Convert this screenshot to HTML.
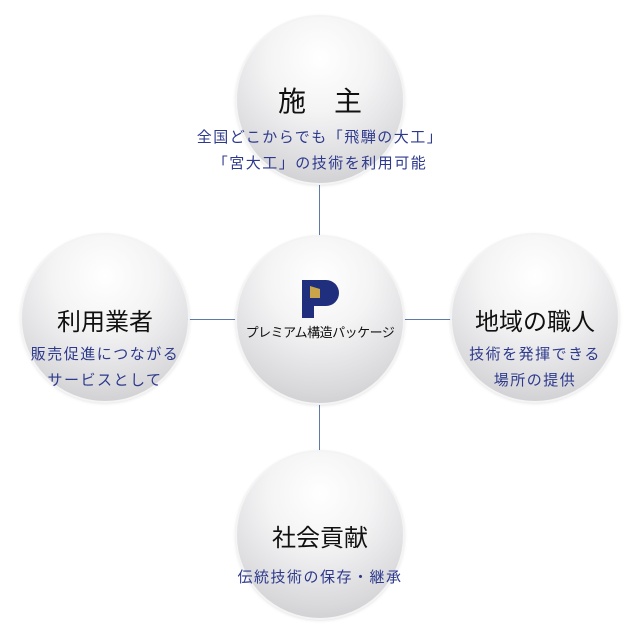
<!DOCTYPE html>
<html><head><meta charset="utf-8"><style>
body{margin:0;width:640px;height:640px;background:#fff;position:relative;overflow:hidden;font-family:"Liberation Sans","Noto Sans CJK JP",sans-serif}
.c{position:absolute;width:166px;height:166px;border-radius:50%;background:radial-gradient(circle at 50% 25%,#ffffff 0%,#f4f4f5 35%,#d9d9dc 75%,#c4c4c8 100%);box-shadow:0 0 0 2px #f4f4f4,0 1px 4px rgba(0,0,0,0.25)}
.l{position:absolute;background:#5f7aa8}
.t{position:absolute;text-align:center;color:#111;font-size:24px;width:200px}
.s{position:absolute;text-align:center;color:#2d3a8c;font-size:15px;line-height:26px;letter-spacing:1.5px;width:300px;white-space:nowrap}
</style></head><body>
<div class="l" style="left:319px;top:180px;width:1px;height:290px"></div>
<div class="l" style="left:185px;top:319px;width:270px;height:1px"></div>
<div class="c" style="left:237px;top:17px"></div>
<div class="c" style="left:237px;top:237px"></div>
<div class="c" style="left:22px;top:235px"></div>
<div class="c" style="left:452px;top:235px"></div>
<div class="c" style="left:237px;top:452px"></div>
<div class="t" style="left:220px;top:80px;font-size:28px">施　主</div>
<div class="s" style="left:170px;top:125px">全国どこからでも「飛騨の大工」<br>「宮大工」の技術を利用可能</div>
<div class="t" style="left:5px;top:302px">利用業者</div>
<div class="s" style="left:-45px;top:342px">販売促進につながる<br>サービスとして</div>
<div class="t" style="left:435px;top:302px">地域の職人</div>
<div class="s" style="left:385px;top:342px">技術を発揮できる<br>場所の提供</div>
<div class="t" style="left:220px;top:518px">社会貢献</div>
<div class="s" style="left:170px;top:565px">伝統技術の保存・継承</div>
<svg style="position:absolute;left:300px;top:280px" width="42" height="40" viewBox="0 0 42 40">
<rect x="2" y="0" width="12" height="38" fill="#1f2f7e"/>
<path d="M14 0 H26 A13 13 0 0 1 26 26 H14 Z" fill="#1f2f7e"/>
<polygon points="10,6 20,9 20,18 10,18" fill="#c9a44a"/>
</svg>
<div style="position:absolute;left:230px;top:322px;width:180px;text-align:center;font-size:13px;white-space:nowrap;letter-spacing:-0.5px;color:#111">プレミアム構造パッケージ</div>
</body></html>
